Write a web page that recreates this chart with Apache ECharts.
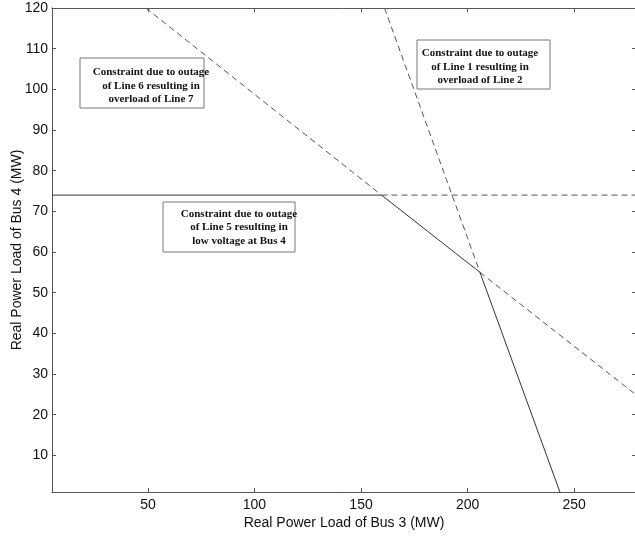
<!DOCTYPE html>
<html>
<head>
<meta charset="utf-8">
<script src="https://cdn.jsdelivr.net/npm/echarts@6/dist/echarts.min.js"></script>
<style>html,body{margin:0;padding:0;background:#fff}#c{width:635px;height:536px}</style>
</head>
<body>
<div id="c"></div>
<script>
// Axis ranges and tick labels
const xRange = [5, 279];
const yRange = [1, 120];
const xTicks = [50, 100, 150, 200, 250];
const yTicks = [10, 20, 30, 40, 50, 60, 70, 80, 90, 100, 110, 120];

// Constraint lines (x, y) in MW
const busVoltageSolid = [[5, 74], [159.6, 74]];
const busVoltageDashed = [[159.6, 74], [279, 74]];
const line67DashedA = [[49, 120], [159.6, 74]];
const line67Solid = [[159.6, 74], [205.8, 55.0]];
const line67DashedB = [[205.8, 55.0], [279, 24.9]];
const line12Dashed = [[161, 120], [205.8, 55.0]];
const line12Solid = [[205.8, 55.0], [243.3, 1]];

// Annotations
const notes = [
  ['Constraint due to outage', 'of Line 6 resulting in', 'overload of Line 7'],
  ['Constraint due to outage', 'of Line 5 resulting in', 'low voltage at Bus 4'],
  ['Constraint due to outage', 'of Line 1 resulting in', 'overload of Line 2']
];

const chart = echarts.init(document.getElementById('c'), null, {renderer: 'canvas'});
const axisCol = '#555';
const solidCol = '#333';
const dashCol = '#555';

function lineSeries(data, dashed) {
  return {
    type: 'line', data: data, symbol: 'none', silent: true, animation: false,
    lineStyle: {color: dashed ? dashCol : solidCol, width: 1, type: dashed ? [6, 4] : 'solid'}
  };
}

const boxes = [
  {x: 80, y: 58, w: 124, h: 50, cx: 151, ty: 86},
  {x: 163, y: 202, w: 132, h: 50, cx: 239, ty: 227.5},
  {x: 417, y: 40, w: 133, h: 49, cx: 480, ty: 67}
];
const graphic = [];
boxes.forEach((b, i) => {
  graphic.push({type: 'rect', shape: {x: b.x, y: b.y, width: b.w, height: b.h},
    style: {fill: '#fff', stroke: '#777', lineWidth: 1}, z: 10});
  graphic.push({type: 'text', x: b.cx, y: b.ty, z: 11,
    style: {text: notes[i].join('\n'), font: 'bold 11px "Liberation Serif"', fill: '#111',
      textAlign: 'center', textVerticalAlign: 'middle', lineHeight: 13.5}});
});

const textStyle = {fontFamily: 'Liberation Sans', fontSize: 14, color: '#111'};

chart.setOption({
  animation: false,
  grid: {left: 52, top: 8, width: 584, height: 484, containLabel: false, outerBoundsMode: 'none'},
  xAxis: [
    {type: 'value', min: xRange[0], max: xRange[1], position: 'bottom',
      name: 'Real Power Load of Bus 3 (MW)', nameLocation: 'middle', nameGap: 24, nameMoveOverlap: false,
      nameTextStyle: textStyle,
      axisLine: {lineStyle: {color: axisCol, width: 1}},
      axisTick: {inside: true, length: 4, customValues: xTicks, lineStyle: {color: axisCol}},
      axisLabel: Object.assign({customValues: xTicks, margin: 6}, textStyle),
      splitLine: {show: false}},
    {type: 'value', min: xRange[0], max: xRange[1], position: 'top',
      axisLine: {lineStyle: {color: axisCol, width: 1}},
      axisTick: {inside: true, length: 4, customValues: xTicks, lineStyle: {color: axisCol}},
      axisLabel: {show: false}, splitLine: {show: false}}
  ],
  yAxis: [
    {type: 'value', min: yRange[0], max: yRange[1], position: 'left',
      name: 'Real Power Load of Bus 4 (MW)', nameLocation: 'middle', nameGap: 28, nameMoveOverlap: false,
      nameTextStyle: textStyle,
      axisLine: {lineStyle: {color: axisCol, width: 1}},
      axisTick: {inside: true, length: 4, customValues: yTicks, lineStyle: {color: axisCol}},
      axisLabel: Object.assign({customValues: yTicks, margin: 4}, textStyle),
      splitLine: {show: false}},
    {type: 'value', min: yRange[0], max: yRange[1], position: 'right',
      axisLine: {lineStyle: {color: axisCol, width: 1}},
      axisTick: {inside: true, length: 4, customValues: yTicks, lineStyle: {color: axisCol}},
      axisLabel: {show: false}, splitLine: {show: false}}
  ],
  series: [
    lineSeries(busVoltageSolid, false),
    lineSeries(busVoltageDashed, true),
    lineSeries(line67DashedA, true),
    lineSeries(line67Solid, false),
    lineSeries(line67DashedB, true),
    lineSeries(line12Dashed, true),
    lineSeries(line12Solid, false)
  ],
  graphic: graphic
});
</script>
</body>
</html>
